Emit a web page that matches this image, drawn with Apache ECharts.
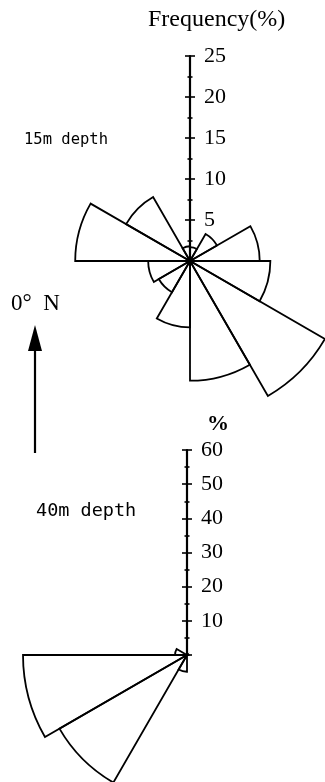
<!DOCTYPE html>
<html>
<head>
<meta charset="utf-8">
<script src="https://cdn.jsdelivr.net/npm/echarts@6/dist/echarts.min.js"></script>
<style>
html,body{margin:0;padding:0;background:#fff}
#main{width:325px;height:782px}
</style>
</head>
<body>
<div id="main"></div>
<script>
// 方位扇区 (30度一格, 从北顺时针)
var directions = ['0','30','60','90','120','150','180','210','240','270','300','330'];
// 15m 水深 频率(%)
var freq15m = [1.7, 3.8, 8.5, 9.8, 19.0, 14.6, 8.1, 4.4, 5.1, 14.0, 9.0, 1.8];
// 40m 水深 频率(%)
var freq40m = [0, 0, 0, 0, 0, 0, 4.9, 43.1, 48.0, 3.5, 0, 0];
// 刻度标签
var ticks15m = [5, 10, 15, 20, 25];
var ticks40m = [10, 20, 30, 40, 50, 60];

var serifFont = '"Liberation Serif", serif';
var monoFont = '"DejaVu Sans Mono", monospace';

// 角度轴 (全部隐藏)
function angleAxis(idx){
	return {
		polarIndex: idx,
		type: 'category',
		data: directions,
		startAngle: 90,
		clockwise: true,
		axisLine: {show: false},
		axisTick: {show: false},
		axisLabel: {show: false},
		splitLine: {show: false}
	};
}

// 半径轴 main: 轴线+标签+左侧刻度; 否则只画右侧刻度(负长度)
function radiusAxis(idx, max, interval, labels, main){
	var side = main ? 1 : -1;
	return {
		polarIndex: idx,
		type: 'value',
		min: 0,
		max: max,
		interval: interval,
		axisLine: {show: main, lineStyle: {color: '#000', width: 2.2}},
		axisTick: {show: true, length: 5 * side, lineStyle: {color: '#000', width: 1.6}},
		minorTick: {show: true, splitNumber: 2, length: 2.5 * side, lineStyle: {color: '#000', width: 1.6}},
		axisLabel: {
			show: main,
			margin: -14,   // 标签放到轴的右侧
			align: 'left',
			color: '#000',
			fontFamily: serifFont,
			fontSize: 22,
			formatter: function(v){ return labels.indexOf(v) >= 0 ? String(v) : ''; }
		},
		splitLine: {show: false},
		minorSplitLine: {show: false}
	};
}

function roseSeries(idx, data){
	return {
		type: 'bar',
		coordinateSystem: 'polar',
		polarIndex: idx,
		data: data,
		barCategoryGap: '0%',
		silent: true,
		itemStyle: {color: 'rgba(0,0,0,0)', borderColor: '#000', borderWidth: 1.8}
	};
}

var myChart = echarts.init(document.getElementById('main'));
var option = {
	animation: false,
	backgroundColor: '#fff',
	title: [
		{text: 'Frequency(%)', left: 143, top: 3, textStyle: {fontFamily: serifFont, fontWeight: 'normal', fontSize: 24, color: '#000'}},
		{text: '15m depth', left: 19, top: 127, textStyle: {fontFamily: monoFont, fontWeight: 'normal', fontSize: 15.5, color: '#000'}},
		{text: '0°  N', left: 6, top: 287, textStyle: {fontFamily: serifFont, fontWeight: 'normal', fontSize: 23, color: '#000'}},
		{text: '%', left: 202, top: 408, textStyle: {fontFamily: serifFont, fontWeight: 'bold', fontSize: 22, color: '#000'}},
		{text: '40m depth', left: 31, top: 497, textStyle: {fontFamily: monoFont, fontWeight: 'normal', fontSize: 18.5, color: '#000'}}
	],
	polar: [
		{center: [190, 261], radius: 205},
		{center: [187, 655], radius: 205},
		{center: [190, 261], radius: 205},
		{center: [187, 655], radius: 205}
	],
	angleAxis: [angleAxis(0), angleAxis(1), angleAxis(2), angleAxis(3)],
	radiusAxis: [
		radiusAxis(0, 25, 5, ticks15m, true),
		radiusAxis(1, 60, 10, ticks40m, true),
		radiusAxis(2, 25, 5, ticks15m, false),
		radiusAxis(3, 60, 10, ticks40m, false)
	],
	series: [roseSeries(0, freq15m), roseSeries(1, freq40m)],
	// 北向箭头
	graphic: [
		{type: 'line', shape: {x1: 35, y1: 453, x2: 35, y2: 346}, style: {stroke: '#000', lineWidth: 2.2}},
		{type: 'polygon', shape: {points: [[35, 325], [28, 351], [42, 351]]}, style: {fill: '#000'}}
	]
};
myChart.setOption(option);
</script>
</body>
</html>
